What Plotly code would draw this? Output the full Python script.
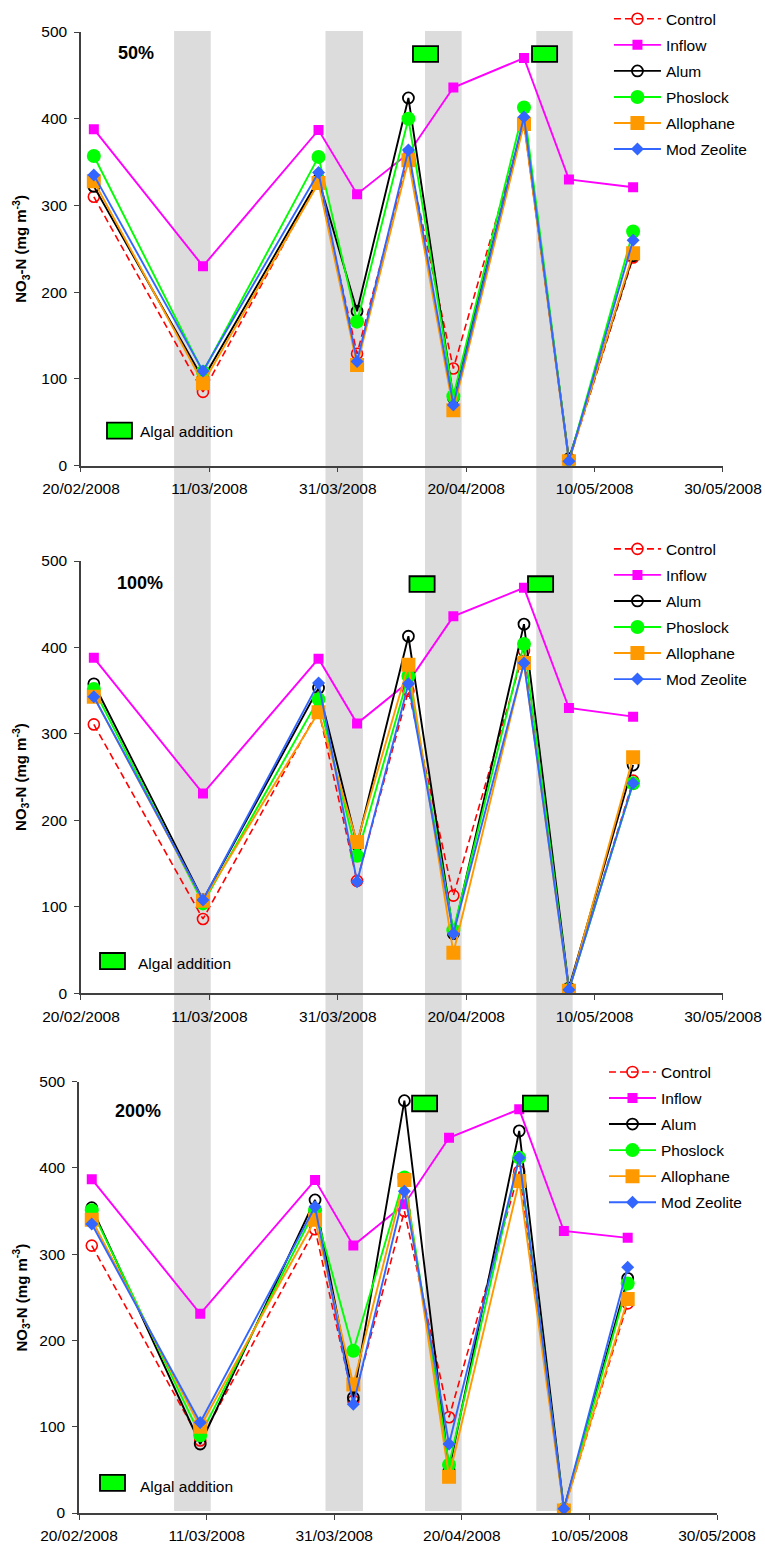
import pandas as pd
import plotly.graph_objects as go

# ---------------- data ----------------
dates = ["2008-02-22", "2008-03-10", "2008-03-28", "2008-04-03", "2008-04-11",
         "2008-04-18", "2008-04-29", "2008-05-06", "2008-05-16"]

series_names = ["Control", "Inflow", "Alum", "Phoslock", "Allophane", "Mod Zeolite"]

# 50 %
p50_control   = [310, 85, 329, 129, 355, 112, 395, 5, 240]
p50_inflow    = [388, 230, 387, 313, 360, 436, 470, 330, 321]
p50_alum      = [322, 100, 330, 178, 424, 78, 398, 8, 242]
p50_phoslock  = [357, 108, 356, 166, 400, 80, 413, 5, 270]
p50_allophane = [328, 95, 326, 116, 352, 64, 394, 5, 245]
p50_zeolite   = [335, 109, 338, 120, 364, 70, 402, 5, 260]

# 100 %
p100_control   = [311, 86, 328, 130, 350, 113, 396, 4, 246]
p100_inflow    = [388, 231, 387, 312, 360, 436, 469, 330, 320]
p100_alum      = [358, 108, 353, 172, 413, 69, 427, 6, 264]
p100_phoslock  = [352, 104, 340, 159, 367, 73, 404, 4, 243]
p100_allophane = [343, 107, 325, 175, 380, 47, 382, 3, 273]
p100_zeolite   = [343, 108, 359, 129, 358, 69, 382, 4, 243]

# 200 %
p200_control   = [310, 84, 329, 130, 350, 111, 396, 4, 243]
p200_inflow    = [387, 231, 386, 310, 358, 435, 468, 327, 319]
p200_alum      = [354, 80, 363, 134, 478, 50, 443, 5, 272]
p200_phoslock  = [351, 90, 351, 188, 389, 56, 412, 4, 266]
p200_allophane = [340, 100, 340, 149, 386, 42, 385, 3, 248]
p200_zeolite   = [335, 105, 355, 126, 373, 80, 412, 5, 285]

panel_labels = ["50%", "100%", "200%"]

# shaded periods (start, end)
band_starts = ["2008-03-05 12:00", "2008-03-29 02:00", "2008-04-13 14:00", "2008-04-30 22:00"]
band_ends   = ["2008-03-11 05:00", "2008-04-03 22:00", "2008-04-19 07:00", "2008-05-06 14:00"]

# algal additions (date, level) per panel
algal_p50  = ["2008-04-13 16:00", "2008-05-02 05:00"]
algal_p100 = ["2008-04-13 03:00", "2008-05-01 14:00"]
algal_p200 = ["2008-04-14 04:00", "2008-05-01 13:00"]
algal_level = [474.6, 473.4, 474.8]

x_start, x_end = "2008-02-20", "2008-05-30"

# ---------------- styles ----------------
FONT = "Arial, Liberation Sans, sans-serif"
styles = {
    "Control":     dict(line=dict(color="#FF0000", width=1.6, dash="7px,4px"),
                        marker=dict(symbol="circle-open", size=11, color="#FF0000", line=dict(width=1.6))),
    "Inflow":      dict(line=dict(color="#FF00FF", width=1.9),
                        marker=dict(symbol="square", size=10, color="#FF00FF")),
    "Alum":        dict(line=dict(color="#000000", width=1.9),
                        marker=dict(symbol="circle-open", size=11, color="#000000", line=dict(width=1.8))),
    "Phoslock":    dict(line=dict(color="#00FF00", width=1.9),
                        marker=dict(symbol="circle", size=14, color="#00FF00")),
    "Allophane":   dict(line=dict(color="#FF9900", width=1.9),
                        marker=dict(symbol="square", size=14, color="#FF9900")),
    "Mod Zeolite": dict(line=dict(color="#3366FF", width=1.9),
                        marker=dict(symbol="diamond", size=10, color="#3366FF")),
}

panels = [
    [p50_control, p50_inflow, p50_alum, p50_phoslock, p50_allophane, p50_zeolite],
    [p100_control, p100_inflow, p100_alum, p100_phoslock, p100_allophane, p100_zeolite],
    [p200_control, p200_inflow, p200_alum, p200_phoslock, p200_allophane, p200_zeolite],
]
algal_dates = [algal_p50, algal_p100, algal_p200]

fig = go.Figure()

legend_ids = ["legend", "legend2", "legend3"]
for pi, panel in enumerate(panels):
    ax = "" if pi == 0 else str(pi + 1)
    for name, vals in zip(series_names, panel):
        st = styles[name]
        fig.add_trace(go.Scatter(
            x=pd.to_datetime(dates), y=vals, name=name, mode="lines+markers",
            line=st["line"], marker=st["marker"],
            xaxis="x" + ax, yaxis="y" + ax,
            legend=legend_ids[pi], legendgroup=f"p{pi}_{name}",
        ))

# ---------------- layout ----------------
x_domains = [[0.0031, 1.0], [0.0031, 1.0], [0.0, 0.9907]]
y_domains = [[0.7072, 1.0], [0.3509, 0.6428], [0.0, 0.2912]]

axis_col = "#404040"
layout = dict(
    width=765, height=1546,
    margin=dict(l=79, r=42, t=32, b=33, autoexpand=False),
    paper_bgcolor="white", plot_bgcolor="rgba(0,0,0,0)",
    font=dict(family=FONT, size=15, color="black"),
)
for pi in range(3):
    ax = "" if pi == 0 else str(pi + 1)
    layout["xaxis" + ax] = dict(
        domain=x_domains[pi], type="date", range=[x_start, x_end],
        tick0=x_start, dtick=20 * 86400000, tickformat="%d/%m/%Y",
        ticks="outside", ticklen=5, tickwidth=1.3, tickcolor=axis_col,
        showline=True, linecolor=axis_col, linewidth=1.5,
        showgrid=False, zeroline=False, anchor="y" + ax, automargin=False,
        tickfont=dict(size=15.5, family=FONT, color="black"),
        ticklabelstandoff=3,
    )
    layout["yaxis" + ax] = dict(
        domain=y_domains[pi], range=[0, 500], dtick=100,
        ticks="outside", ticklen=5, tickwidth=1.3, tickcolor=axis_col,
        showline=True, linecolor=axis_col, linewidth=1.5,
        showgrid=False, zeroline=False, anchor="x" + ax, automargin=False,
        tickfont=dict(size=15.5, family=FONT, color="black"),
        ticklabelstandoff=4,
    )

legend_pos = [(0.8229, 1.0201), (0.8229, 0.6622), (0.8152, 0.3090)]
for pi, lid in enumerate(legend_ids):
    layout[lid] = dict(
        x=legend_pos[pi][0], y=legend_pos[pi][1], xanchor="left", yanchor="top",
        bgcolor="rgba(0,0,0,0)", font=dict(size=15.5, family=FONT, color="black"),
        tracegroupgap=2.9, itemwidth=47, itemclick=False, itemdoubleclick=False,
    )

fig.update_layout(**layout)

shapes = []
annotations = []

# shaded bands across all panels
for s, e in zip(band_starts, band_ends):
    shapes.append(dict(type="rect", xref="x", yref="paper", x0=s, x1=e,
                       y0=0.0014, y1=1.0007, fillcolor="#DCDCDC",
                       line=dict(width=0), layer="below"))

ytitle_y = [0.8536, 0.497, 0.1455]
label_pos = [(0.0545, 0.9515), (0.053, 0.949), (0.0533, 0.931)]
algal_legend_box = [((0.0405, 0.0794), (0.0623, 0.0991)),
                    ((0.0296, 0.0685), (0.056, 0.0933)),
                    ((0.0329, 0.0721), (0.0515, 0.0884))]
algal_legend_text = [(0.0883, 0.0777), (0.0852, 0.070), (0.0925, 0.061)]

for pi in range(3):
    ax = "" if pi == 0 else str(pi + 1)
    # algal addition markers
    for d in algal_dates[pi]:
        c = pd.Timestamp(d)
        shapes.append(dict(type="rect", xref="x" + ax, yref="y" + ax,
                           x0=c - pd.Timedelta(hours=47), x1=c + pd.Timedelta(hours=47),
                           y0=algal_level[pi] - 9, y1=algal_level[pi] + 9,
                           fillcolor="#00FF00", line=dict(color="black", width=1.8)))
    # algal addition key
    (bx0, bx1), (by0, by1) = algal_legend_box[pi]
    shapes.append(dict(type="rect", xref=f"x{ax} domain", yref=f"y{ax} domain",
                       x0=bx0, x1=bx1, y0=by0, y1=by1,
                       fillcolor="#00FF00", line=dict(color="black", width=1.8)))
    annotations.append(dict(text="Algal addition", xref=f"x{ax} domain", yref=f"y{ax} domain",
                            x=algal_legend_text[pi][0], y=algal_legend_text[pi][1],
                            xanchor="left", yanchor="middle", showarrow=False,
                            font=dict(size=15.5, family=FONT, color="black")))
    # panel label
    annotations.append(dict(text=f"<b>{panel_labels[pi]}</b>", xref=f"x{ax} domain", yref=f"y{ax} domain",
                            x=label_pos[pi][0], y=label_pos[pi][1],
                            xanchor="left", yanchor="middle", showarrow=False,
                            font=dict(size=18, family=FONT, color="black")))
    # y-axis title
    annotations.append(dict(text="<b>NO<sub>3</sub>-N (mg m<sup>-3</sup>)</b>",
                            xref="paper", yref="paper", x=-0.0901, y=ytitle_y[pi],
                            xanchor="center", yanchor="middle", textangle=-90, showarrow=False,
                            font=dict(size=15, family=FONT, color="black")))

fig.update_layout(shapes=shapes, annotations=annotations)

fig.write_html("out.html")
